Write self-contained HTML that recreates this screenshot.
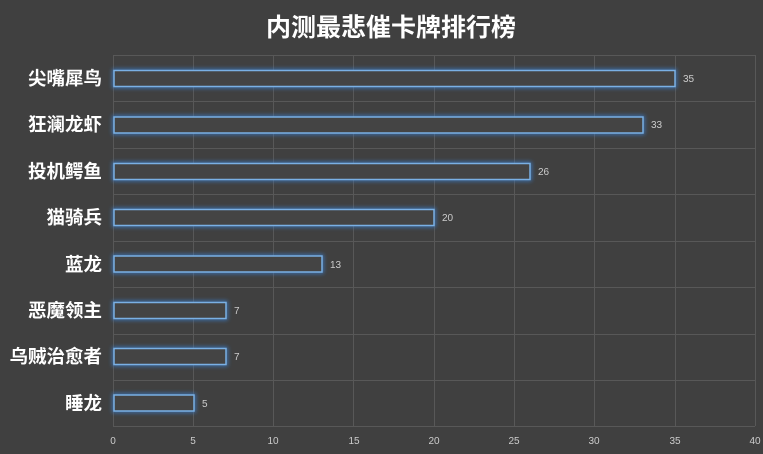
<!DOCTYPE html><html><head><meta charset="utf-8"><style>body{margin:0;background:#404040}</style></head><body>
<svg width="763" height="454" xmlns="http://www.w3.org/2000/svg" style="display:block;font-family:'Liberation Sans','Noto Sans CJK SC',sans-serif">
<defs><filter id="g" x="-5%" y="-50%" width="110%" height="200%"><feGaussianBlur stdDeviation="2"/></filter></defs>
<rect width="763" height="454" fill="#404040"/>
<text x="391" y="36" fill="#fff" font-size="25" font-weight="bold" text-anchor="middle">内测最悲催卡牌排行榜</text>
<g stroke="#585858" stroke-width="1">
<line x1="113" y1="55.5" x2="755" y2="55.5"/><line x1="113" y1="101.5" x2="755" y2="101.5"/><line x1="113" y1="148.5" x2="755" y2="148.5"/><line x1="113" y1="194.5" x2="755" y2="194.5"/><line x1="113" y1="241.5" x2="755" y2="241.5"/><line x1="113" y1="287.5" x2="755" y2="287.5"/><line x1="113" y1="334.5" x2="755" y2="334.5"/><line x1="113" y1="380.5" x2="755" y2="380.5"/><line x1="113" y1="426.5" x2="755" y2="426.5"/>
<line x1="113.5" y1="55" x2="113.5" y2="426"/><line x1="273.5" y1="55" x2="273.5" y2="426"/><line x1="434.5" y1="55" x2="434.5" y2="426"/><line x1="594.5" y1="55" x2="594.5" y2="426"/><line x1="755.5" y1="55" x2="755.5" y2="426"/>
<line x1="193.5" y1="55" x2="193.5" y2="426"/><line x1="353.5" y1="55" x2="353.5" y2="426"/><line x1="514.5" y1="55" x2="514.5" y2="426"/><line x1="675.5" y1="55" x2="675.5" y2="426"/>
</g>
<g fill="#444" stroke="#7ab0e4" stroke-width="1.5">
<g filter="url(#g)" stroke="#3a7cc8" stroke-width="3" fill="none">
<rect x="114" y="70.5" width="561" height="16"/><rect x="114" y="117" width="529" height="16"/><rect x="114" y="163.5" width="416" height="16"/><rect x="114" y="209.5" width="320" height="16"/><rect x="114" y="256" width="208" height="16"/><rect x="114" y="302.5" width="112" height="16"/><rect x="114" y="348.5" width="112" height="16"/><rect x="114" y="395" width="80" height="16"/>
</g>
<rect x="114" y="70.5" width="561" height="16"/><rect x="114" y="117" width="529" height="16"/><rect x="114" y="163.5" width="416" height="16"/><rect x="114" y="209.5" width="320" height="16"/><rect x="114" y="256" width="208" height="16"/><rect x="114" y="302.5" width="112" height="16"/><rect x="114" y="348.5" width="112" height="16"/><rect x="114" y="395" width="80" height="16"/>
</g>
<g fill="#ccc" font-size="10">
<text x="683" y="82">35</text><text x="651" y="128">33</text><text x="538" y="175">26</text><text x="442" y="221">20</text><text x="330" y="268">13</text><text x="234" y="314">7</text><text x="234" y="360">7</text><text x="202" y="407">5</text>
</g>
<g fill="#fff" font-size="18.5" font-weight="bold" text-anchor="end">
<text x="102" y="85">尖嘴犀鸟</text><text x="102" y="131">狂澜龙虾</text><text x="102" y="178">投机鳄鱼</text><text x="102" y="224">猫骑兵</text><text x="102" y="271">蓝龙</text><text x="102" y="317">恶魔领主</text><text x="102" y="363">乌贼治愈者</text><text x="102" y="410">睡龙</text>
</g>
<g fill="#ccc" font-size="10" text-anchor="middle">
<text x="113" y="444">0</text><text x="193" y="444">5</text><text x="273" y="444">10</text><text x="354" y="444">15</text><text x="434" y="444">20</text><text x="514" y="444">25</text><text x="594" y="444">30</text><text x="675" y="444">35</text><text x="755" y="444">40</text>
</g>
</svg></body></html>
